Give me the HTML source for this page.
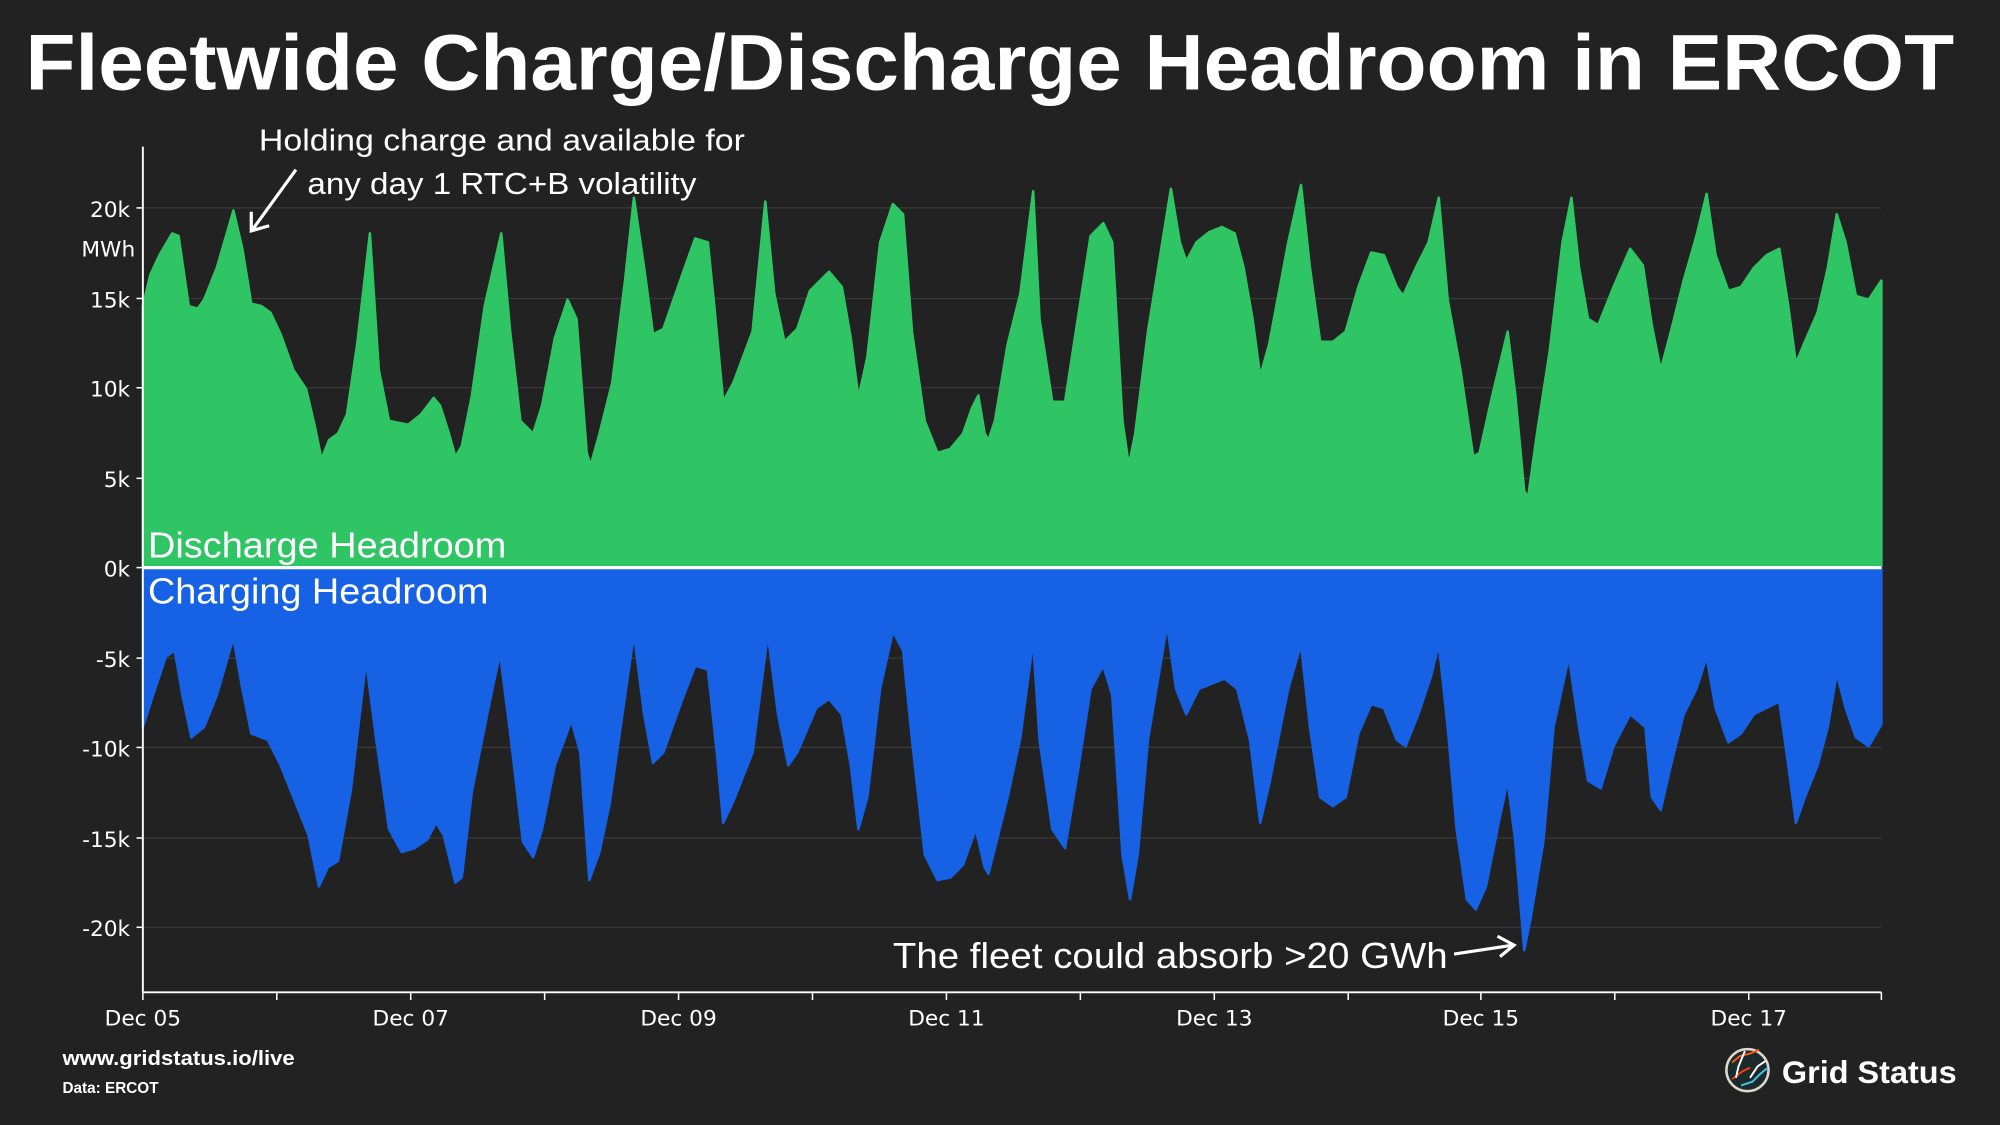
<!DOCTYPE html>
<html><head><meta charset="utf-8"><style>
html,body{margin:0;padding:0;background:#222222;}
svg{display:block;}
text{font-family:"Liberation Sans","DejaVu Sans",sans-serif;fill:#fff;}
.dv{font-family:"DejaVu Sans","Liberation Sans",sans-serif;}
</style></head><body>
<svg width="2000" height="1125" viewBox="0 0 1568 882" preserveAspectRatio="none" xmlns="http://www.w3.org/2000/svg">
<rect width="1568" height="882" fill="#222222"/>
<text x="20" y="70" font-size="62" font-weight="bold" textLength="1512" lengthAdjust="spacingAndGlyphs">Fleetwide Charge/Discharge Headroom in ERCOT</text>
<g stroke="#3a3a3a" stroke-width="1">
<line x1="112" x2="1475" y1="163" y2="163"/><line x1="112" x2="1475" y1="234" y2="234"/>
<line x1="112" x2="1475" y1="304" y2="304"/><line x1="112" x2="1475" y1="375" y2="375"/>
<line x1="112" x2="1475" y1="516" y2="516"/><line x1="112" x2="1475" y1="586" y2="586"/>
<line x1="112" x2="1475" y1="657" y2="657"/><line x1="112" x2="1475" y1="727" y2="727"/>
</g>
<polygon fill="#2fc464" stroke="#2fc464" stroke-width="2" stroke-linejoin="round" points="112,445 112,240 118,215 125,200 135,183 140,185 148,240 155,242 160,235 170,210 183,165 190,195 197,238 205,240 212,245 220,262 230,290 240,305 247,335 252,360 258,345 265,340 272,325 280,270 290,183 297,290 305,330 320,333 330,325 340,312 345,318 352,340 357,358 362,350 370,310 380,240 393,183 400,260 408,330 418,340 425,318 435,265 445,235 452,250 460,355 463,365 470,340 480,300 490,220 497,155 505,210 512,262 520,258 535,215 545,187 555,190 560,240 567,315 575,300 590,260 600,158 607,230 615,268 625,258 635,228 650,213 660,225 667,265 673,312 680,280 690,190 700,160 708,168 715,260 725,330 735,355 745,352 755,340 762,320 767,310 772,340 775,345 780,330 790,270 800,230 810,150 815,250 825,315 835,315 845,250 855,185 865,175 872,190 880,330 885,365 890,340 900,260 918,148 925,190 930,205 938,190 948,182 958,178 968,183 975,210 982,250 988,295 995,270 1010,190 1020,145 1027,210 1035,268 1045,268 1055,260 1065,225 1075,198 1085,200 1095,225 1100,232 1110,210 1120,190 1128,155 1135,235 1145,290 1155,358 1160,355 1170,310 1182,260 1188,310 1195,385 1198,390 1205,340 1215,275 1225,190 1232,155 1238,210 1245,250 1253,255 1265,225 1278,195 1288,208 1295,255 1302,290 1310,260 1320,220 1330,185 1338,152 1345,200 1355,228 1365,225 1375,210 1385,200 1395,195 1402,240 1408,285 1415,268 1425,245 1433,210 1440,168 1447,190 1455,232 1465,235 1475,220 1475,445"/>
<polygon fill="#1762e4" stroke="#1762e4" stroke-width="2" stroke-linejoin="round" points="112,445 112,570 120,545 130,515 137,510 143,545 150,578 160,570 170,545 183,500 190,540 197,575 210,580 220,600 232,630 242,655 250,695 257,680 265,675 275,620 287,518 295,580 305,650 315,668 325,665 335,658 342,645 348,655 357,692 362,688 370,620 383,555 392,512 400,575 410,660 418,672 425,650 435,600 448,565 455,590 462,690 470,668 478,630 488,560 497,497 505,560 512,598 520,590 535,548 545,522 555,525 562,590 567,645 575,628 590,590 602,497 610,560 618,600 625,590 640,555 650,548 660,560 667,600 673,650 680,625 690,540 700,495 708,510 715,580 725,670 735,690 745,688 755,678 765,650 772,680 775,685 780,665 790,625 800,578 810,502 815,580 825,650 835,665 845,605 855,540 865,522 872,545 880,670 886,705 892,670 900,580 915,490 922,540 930,560 940,540 960,532 970,540 980,580 988,645 995,615 1010,540 1020,505 1027,570 1035,625 1045,632 1055,625 1065,575 1075,552 1085,555 1095,580 1102,585 1112,560 1122,530 1128,505 1135,570 1142,650 1150,705 1157,713 1165,695 1175,645 1182,612 1188,660 1195,745 1200,720 1210,660 1218,570 1230,515 1238,570 1245,612 1255,618 1265,585 1278,560 1290,570 1295,625 1302,635 1310,600 1320,560 1330,540 1338,515 1345,555 1355,582 1365,575 1375,560 1385,555 1395,550 1402,600 1408,645 1415,625 1425,600 1433,570 1440,528 1447,555 1455,578 1465,585 1475,568 1475,445"/>
<line x1="112" x2="1475" y1="445" y2="445" stroke="#fff" stroke-width="2.5"/>
<line x1="112" x2="112" y1="115" y2="778" stroke="#fff" stroke-width="1.5"/>
<line x1="112" x2="1475" y1="778" y2="778" stroke="#fff" stroke-width="1.5"/>
<g stroke="#fff" stroke-width="1.2">
<line x1="107" x2="112" y1="163" y2="163"/><line x1="107" x2="112" y1="234" y2="234"/><line x1="107" x2="112" y1="304" y2="304"/><line x1="107" x2="112" y1="375" y2="375"/><line x1="107" x2="112" y1="445" y2="445"/><line x1="107" x2="112" y1="516" y2="516"/><line x1="107" x2="112" y1="586" y2="586"/><line x1="107" x2="112" y1="657" y2="657"/><line x1="107" x2="112" y1="727" y2="727"/>
<line x1="112" x2="112" y1="778" y2="784"/><line x1="217" x2="217" y1="778" y2="784"/><line x1="322" x2="322" y1="778" y2="784"/><line x1="427" x2="427" y1="778" y2="784"/><line x1="532" x2="532" y1="778" y2="784"/><line x1="637" x2="637" y1="778" y2="784"/><line x1="742" x2="742" y1="778" y2="784"/><line x1="847" x2="847" y1="778" y2="784"/><line x1="952" x2="952" y1="778" y2="784"/><line x1="1057" x2="1057" y1="778" y2="784"/><line x1="1161" x2="1161" y1="778" y2="784"/><line x1="1266" x2="1266" y1="778" y2="784"/><line x1="1371" x2="1371" y1="778" y2="784"/><line x1="1475" x2="1475" y1="778" y2="784"/>
</g>
<g font-size="17" text-anchor="end" class="dv">
<text class="dv" x="102" y="170">20k</text><text class="dv" x="106" y="201">MWh</text><text class="dv" x="102" y="241">15k</text><text class="dv" x="102" y="311">10k</text><text class="dv" x="102" y="382">5k</text><text class="dv" x="102" y="452">0k</text><text class="dv" x="102" y="523">-5k</text><text class="dv" x="102" y="593">-10k</text><text class="dv" x="102" y="664">-15k</text><text class="dv" x="102" y="734">-20k</text>
</g>
<g font-size="17" text-anchor="middle">
<text class="dv" x="112" y="804">Dec 05</text><text class="dv" x="322" y="804">Dec 07</text><text class="dv" x="532" y="804">Dec 09</text><text class="dv" x="742" y="804">Dec 11</text><text class="dv" x="952" y="804">Dec 13</text><text class="dv" x="1161" y="804">Dec 15</text><text class="dv" x="1371" y="804">Dec 17</text>
</g>
<text x="116" y="437" font-size="28" textLength="281" lengthAdjust="spacingAndGlyphs">Discharge Headroom</text>
<text x="116" y="473" font-size="28" textLength="267" lengthAdjust="spacingAndGlyphs">Charging Headroom</text>
<text x="203" y="118" font-size="24" textLength="381" lengthAdjust="spacingAndGlyphs">Holding charge and available for</text>
<text x="241" y="152" font-size="24" textLength="305" lengthAdjust="spacingAndGlyphs">any day 1 RTC+B volatility</text>
<g stroke="#fff" stroke-width="2.5" fill="none">
<line x1="232" y1="133" x2="198" y2="180"/><polyline points="197,166 197,181 211,177"/>
<line x1="1140" y1="748" x2="1186" y2="741"/><polyline points="1174,734 1187,741 1176,750"/>
</g>
<text x="700" y="759" font-size="28" textLength="435" lengthAdjust="spacingAndGlyphs">The fleet could absorb &gt;20 GWh</text>
<text x="49" y="835" font-size="16" font-weight="bold" textLength="182" lengthAdjust="spacingAndGlyphs">www.gridstatus.io/live</text>
<text x="49" y="857" font-size="12" font-weight="bold">Data: ERCOT</text>
<circle cx="1370" cy="839" r="16.5" fill="#1d2a2c" stroke="#ddd8cc" stroke-width="2"/>
<g fill="none" stroke-width="1.5">
<path d="M1358,833 L1364,828 L1372,826 L1379,823" stroke="#ff5a1a"/>
<path d="M1358,846 L1366,840 L1372,837" stroke="#ff3a10"/>
<path d="M1365,851 L1374,848 L1380,842 L1386,837" stroke="#40c8e8"/>
<path d="M1368,824 L1363,836 L1361,845 M1372,845 L1378,836 L1384,832" stroke="#fff"/>
</g>
<text x="1397" y="849" font-size="25" font-weight="bold" textLength="137" lengthAdjust="spacingAndGlyphs">Grid Status</text>
</svg>
</body></html>
